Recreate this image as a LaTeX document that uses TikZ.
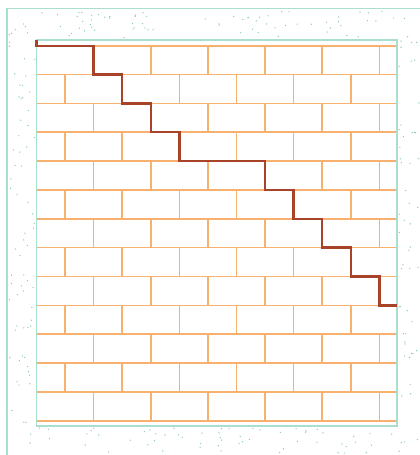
\documentclass[tikz,border=0pt]{standalone}
\definecolor{brick}{RGB}{248,176,110}
\definecolor{frame}{RGB}{170,222,208}
\definecolor{speck}{RGB}{140,200,185}
\definecolor{stair}{RGB}{168,66,40}
\tikzset{
  framel/.style={draw=frame, line width=1.7pt},
  brickl/.style={draw=brick, line width=1.6pt},
  stairl/.style={draw=stair, line width=2.4pt, line join=miter},
}
\begin{document}
\begin{tikzpicture}[x=1pt,y=-1pt]
\useasboundingbox (0,0) rectangle (420,455);
\fill[white] (0,0) rectangle (420,455);
% speckles
\pgfmathsetseed{11}
\foreach \i in {1,...,75}{\pgfmathsetmacro\px{9+409*rnd}\pgfmathsetmacro\py{11+27*rnd}\fill[speck] (\px,\py) circle (0.7);}
\foreach \i in {1,...,65}{\pgfmathsetmacro\px{9+26*rnd}\pgfmathsetmacro\py{40+413*rnd}\fill[speck] (\px,\py) circle (0.7);}
\foreach \i in {1,...,52}{\pgfmathsetmacro\px{399+20*rnd}\pgfmathsetmacro\py{40+413*rnd}\fill[speck] (\px,\py) circle (0.7);}
\foreach \i in {1,...,56}{\pgfmathsetmacro\px{36+361*rnd}\pgfmathsetmacro\py{428+25*rnd}\fill[speck] (\px,\py) circle (0.7);}
% outer frame
\draw[framel] (7,455) -- (7,8.5) -- (420,8.5);
% brick courses
\foreach \r in {0,...,13}{
  \draw[brickl] (36.5,45.7+28.85*\r) -- (396.6,45.7+28.85*\r);
}
\foreach \r in {0,...,12}{
  \pgfmathsetmacro\ya{45.7+28.85*\r}
  \pgfmathsetmacro\yb{45.7+28.85*(\r+1)}
  \pgfmathtruncatemacro\parity{mod(\r,2)}
  \foreach \k in {0,...,5}{
    \pgfmathsetmacro\xx{36.5+28.575*(2*\k+2-\parity)}
    \draw[brickl] (\xx,\ya) -- (\xx,\yb);
  }
}
% inner frame
\draw[framel] (36.5,40) rectangle (396.8,426);
% staircase
\def\X#1{\fpeval{36.5+28.575*#1}}
\def\Y#1{\fpeval{45.7+28.85*#1}}
\draw[stairl] (36.5,40) -- (36.5,\Y0) -- (\X2,\Y0) -- (\X2,\Y1) -- (\X3,\Y1) -- (\X3,\Y2)
  -- (\X4,\Y2) -- (\X4,\Y3) -- (\X5,\Y3) -- (\X5,\Y4) -- (\X8,\Y4) -- (\X8,\Y5)
  -- (\X9,\Y5) -- (\X9,\Y6) -- (\X{10},\Y6) -- (\X{10},\Y7) -- (\X{11},\Y7) -- (\X{11},\Y8)
  -- (\X{12},\Y8) -- (\X{12},\Y9) -- (396.8,\Y9);
\end{tikzpicture}
\end{document}
